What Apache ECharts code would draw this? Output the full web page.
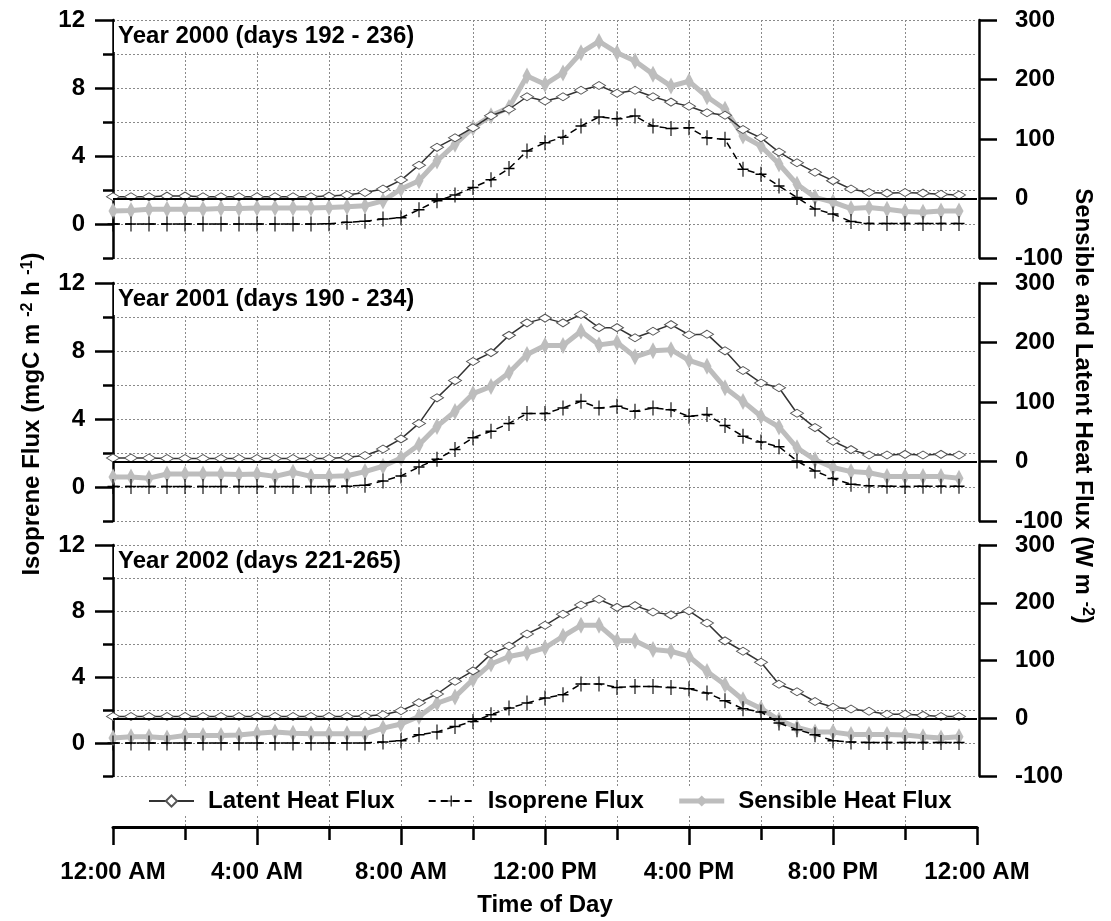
<!DOCTYPE html>
<html>
<head>
<meta charset="utf-8">
<title>Diurnal isoprene, latent and sensible heat flux</title>
<script src="https://cdn.jsdelivr.net/npm/echarts@6/dist/echarts.min.js"></script>
<style>
  html, body { margin: 0; padding: 0; background: #fff; }
  #chart { width: 1111px; height: 921px; }
</style>
</head>
<body>
<div id="chart"></div>
<script>
// Half-hourly time of day (hours after midnight)
const HOURS = [0,0.5,1,1.5,2,2.5,3,3.5,4,4.5,5,5.5,6,6.5,7,7.5,8,8.5,9,9.5,10,10.5,11,11.5,
               12,12.5,13,13.5,14,14.5,15,15.5,16,16.5,17,17.5,18,18.5,19,19.5,20,20.5,21,21.5,22,22.5,23,23.5];

const TIME_TICKS  = [0, 4, 8, 12, 16, 20, 24];
const TIME_LABELS = ['12:00 AM', '4:00 AM', '8:00 AM', '12:00 PM', '4:00 PM', '8:00 PM', '12:00 AM'];
const ISO_TICKS   = [0, 4, 8, 12];

const PANEL_TITLES = ['Year 2000 (days 192 - 236)', 'Year 2001 (days 190 - 234)', 'Year 2002 (days 221-265)'];
const SERIES_NAMES = ['Latent Heat Flux', 'Isoprene Flux', 'Sensible Heat Flux'];

// Latent heat flux, W m-2
const LATENT_2000 = [3,3,3,4,4,3,3,3,3,3,3,3, 4,6,10,16,31,56,86,102,119,139,150,171,
                     164,171,182,190,177,182,171,162,155,144,140,116, 102,78,60,44,30,16,10,9,10,9,7,6];
const LATENT_2001 = [6,6,6,5,5,5,5,5,5,5,5,5, 5,7,10,21,38,64,107,136,168,183,212,233,
                     241,233,247,225,225,208,219,230,213,214,186,153, 132,124,81,57,34,20,11,11,12,11,12,11];
const LATENT_2002 = [3,3,3,3,3,3,3,3,3,3,3,3, 3,3,4,6,13,27,42,64,82,111,125,146,
                     161,180,196,206,192,195,184,179,186,165,134,116, 97,59,46,29,19,16,12,7,7,5,3,3];

// Sensible heat flux, W m-2
const SENSIBLE_2000 = [-21,-20,-18,-18,-18,-18,-17,-17,-16,-16,-16,-16, -15,-14,-12,-4,16,30,63,91,119,139,153,206,
                       192,211,245,264,245,231,209,189,197,171,150,105, 88,58,24,2,-6,-17,-15,-18,-22,-23,-21,-21];
const SENSIBLE_2001 = [-26,-26,-28,-21,-21,-21,-21,-22,-21,-25,-18,-25, -25,-24,-17,-8,6,28,59,84,114,126,149,180,
                       195,195,219,196,200,176,186,188,170,160,124,101, 76,58,23,3,-10,-17,-19,-25,-25,-25,-25,-28];
const SENSIBLE_2002 = [-34,-32,-32,-34,-30,-30,-30,-29,-26,-24,-26,-27, -27,-27,-27,-17,-10,3,26,37,67,94,107,113,
                       122,142,161,161,134,134,119,116,107,81,58,32, 17,-3,-16,-24,-24,-28,-28,-28,-29,-32,-34,-32];

// Isoprene flux, mgC m-2 h-1
const ISOPRENE_2000 = [0,0,0,0,0,0,0,0,0,0,0,0, 0.02,0.1,0.16,0.29,0.37,0.84,1.37,1.7,2.15,2.6,3.26,4.29,
                       4.78,5.1,5.76,6.3,6.19,6.35,5.76,5.62,5.66,5.07,4.98,3.22, 2.93,2.24,1.56,0.88,0.59,0.14,0.03,0.03,0.03,0.03,0.03,0.03];
const ISOPRENE_2001 = [0.03,0.03,0.03,0.03,0.03,0.03,0.03,0.03,0.03,0.03,0.03,0.03, 0.03,0.05,0.1,0.36,0.65,1.18,1.63,2.21,2.9,3.28,3.74,4.32,
                       4.32,4.65,5.04,4.65,4.75,4.46,4.65,4.55,4.16,4.26,3.62,2.99, 2.64,2.37,1.53,0.94,0.5,0.16,0.07,0.05,0.03,0.05,0.05,0.05];
const ISOPRENE_2002 = [0,0,0,0,0,0,0,0,0,0,0,0, 0,0,0,0.06,0.14,0.5,0.67,1.0,1.31,1.71,2.12,2.42,
                       2.73,2.93,3.57,3.57,3.37,3.43,3.43,3.37,3.29,3.03,2.56,2.08, 1.88,1.21,0.81,0.5,0.14,0.06,0.03,0.03,0.03,0.03,0.03,0.03];

const LATENT   = [LATENT_2000, LATENT_2001, LATENT_2002];
const SENSIBLE = [SENSIBLE_2000, SENSIBLE_2001, SENSIBLE_2002];
const ISOPRENE = [ISOPRENE_2000, ISOPRENE_2001, ISOPRENE_2002];

// ---- layout & styles ----
const FONT = '"Liberation Sans", Arial, sans-serif';
const FS = 24;
const PLOT_LEFT = 113, PLOT_WIDTH = 864;
const PANELS = [{ top: 20, height: 238 }, { top: 283, height: 238 }, { top: 545, height: 231 }];
const GRID_LINE = { color: '#8a8a8a', width: 1, type: [2, 2] };
const AXIS_BLACK = { color: '#000', width: 2.5 };
const labelStyle = { fontSize: FS, fontWeight: 'bold', fontFamily: FONT, color: '#000' };
const PLUS = 'path://M9,0h2v9h9v2h-9v9h-2v-9h-9v-2h9z';
const SENSIBLE_GREY = '#bdbdbd';

const pairs = (vals) => HOURS.map((h, i) => [h, vals[i]]);

const grid = PANELS.map(p => ({ left: PLOT_LEFT, width: PLOT_WIDTH, top: p.top, height: p.height }));
grid.push({ left: PLOT_LEFT, width: PLOT_WIDTH, top: 20, height: 807 });

const xAxis = PANELS.map((p, i) => ({ type: 'value', gridIndex: i, min: 0, max: 24, show: false }));
// shared time axis at the bottom: vertical grid lines and short ticks every 2 h
xAxis.push({
  type: 'value', gridIndex: 3, min: 0, max: 24, interval: 2, position: 'bottom',
  axisLine: { show: true, lineStyle: { color: '#000', width: 3 } },
  axisTick: { show: true, length: 13, lineStyle: AXIS_BLACK },
  axisLabel: { show: false },
  splitLine: { show: true, showMinLine: false, showMaxLine: false, lineStyle: GRID_LINE }
});
// long labelled ticks every 4 h
xAxis.push({
  type: 'value', gridIndex: 3, min: 0, max: 24, interval: 2, position: 'bottom',
  axisLine: { show: false },
  axisTick: { show: true, length: 18, customValues: TIME_TICKS, lineStyle: AXIS_BLACK },
  axisLabel: Object.assign({
    show: true, margin: 33, customValues: TIME_TICKS,
    formatter: v => { const k = TIME_TICKS.indexOf(v); return k >= 0 ? TIME_LABELS[k] : ''; }
  }, labelStyle),
  splitLine: { show: false }
});

const yAxis = [];
PANELS.forEach((p, i) => {
  // isoprene axis (left): grid lines every 2, short ticks
  yAxis.push({
    type: 'value', gridIndex: i, position: 'left', min: -2, max: 12, interval: 2,
    axisLine: { show: true, lineStyle: AXIS_BLACK },
    axisTick: { show: true, length: 10, lineStyle: AXIS_BLACK },
    axisLabel: Object.assign({
      margin: 28, formatter: v => (ISO_TICKS.indexOf(v) >= 0 ? String(v) : '')
    }, labelStyle),
    splitLine: { show: true, showMinLine: true, showMaxLine: true, lineStyle: GRID_LINE }
  });
  // long ticks at labelled isoprene values
  yAxis.push({
    type: 'value', gridIndex: i, position: 'left', offset: 0, min: -2, max: 12, interval: 2,
    axisLine: { show: false },
    axisTick: { show: true, length: 18, customValues: ISO_TICKS, lineStyle: AXIS_BLACK },
    axisLabel: { show: false },
    splitLine: { show: false }
  });
  // heat flux axis (right)
  yAxis.push({
    type: 'value', gridIndex: i, position: 'right', offset: 2, min: -100, max: 300, interval: 100,
    axisLine: { show: true, lineStyle: AXIS_BLACK },
    axisTick: { show: true, length: 18, lineStyle: AXIS_BLACK },
    axisLabel: Object.assign({ margin: 36, align: 'left' }, labelStyle),
    splitLine: { show: false }
  });
});
yAxis.push({ type: 'value', gridIndex: 3, min: 0, max: 1, show: false });

const series = [];
PANELS.forEach((p, i) => {
  series.push({
    name: SERIES_NAMES[2], type: 'line', xAxisIndex: i, yAxisIndex: 3 * i + 2,
    data: pairs(SENSIBLE[i]), z: 2,
    lineStyle: { color: SENSIBLE_GREY, width: 5 },
    symbol: 'diamond', symbolSize: [9, 17],
    itemStyle: { color: SENSIBLE_GREY }
  });
  series.push({
    name: SERIES_NAMES[0], type: 'line', xAxisIndex: i, yAxisIndex: 3 * i + 2,
    data: pairs(LATENT[i]), z: 3,
    lineStyle: { color: '#333', width: 1.5 },
    symbol: 'diamond', symbolSize: [13, 8],
    itemStyle: { color: '#fff', borderColor: '#555', borderWidth: 1 },
    markLine: {
      silent: true, symbol: ['none', 'none'], label: { show: false },
      lineStyle: { color: '#000', width: 2, type: 'solid' },
      data: [{ yAxis: 0 }]
    }
  });
  series.push({
    name: SERIES_NAMES[1], type: 'line', xAxisIndex: i, yAxisIndex: 3 * i,
    data: pairs(ISOPRENE[i]), z: 4,
    lineStyle: { color: '#000', width: 1.5, type: [7, 5] },
    symbol: PLUS, symbolSize: [11, 15], symbolKeepAspect: false,
    itemStyle: { color: '#000' }
  });
});

const graphic = PANEL_TITLES.map((t, i) => ({
  type: 'text', x: 114, y: PANELS[i].top + 2, z: 100,
  style: {
    text: t, fontSize: FS, fontWeight: 'bold', fontFamily: FONT, fill: '#000',
    backgroundColor: '#fff', padding: [2, 4, 4, 4]
  }
}));
const sup = { fontSize: 16, fontWeight: 'bold', fontFamily: FONT, fill: '#000', verticalAlign: 'top' };
const norm = { fontSize: FS, fontWeight: 'bold', fontFamily: FONT, fill: '#000' };
graphic.push({
  type: 'text', x: 32, y: 414, rotation: Math.PI / 2, z: 100,
  style: {
    text: '{n|Isoprene Flux (mgC m }{s|-2}{n| h }{s|-1}{n|)}',
    rich: { n: norm, s: sup }, align: 'center', verticalAlign: 'middle'
  }
});
graphic.push({
  type: 'text', x: 1083, y: 406, rotation: -Math.PI / 2, z: 100,
  style: {
    text: '{n|Sensible and Latent Heat Flux (W m }{s|-2}{n|)}',
    rich: { n: norm, s: sup }, align: 'center', verticalAlign: 'middle'
  }
});
graphic.push({
  type: 'text', x: 545, y: 905, z: 100,
  style: Object.assign({ text: 'Time of Day', align: 'center', verticalAlign: 'middle' }, norm)
});

const option = {
  animation: false,
  backgroundColor: '#fff',
  grid, xAxis, yAxis, series, graphic,
  legend: {
    data: [
      { name: SERIES_NAMES[0] },
      { name: SERIES_NAMES[1] },
      { name: SERIES_NAMES[2], lineStyle: { width: 5, color: SENSIBLE_GREY } }
    ],
    left: 134, top: 786,
    backgroundColor: '#fff',
    padding: [3, 14],
    itemWidth: 45, itemHeight: 14, itemGap: 33,
    textStyle: { fontSize: FS, fontWeight: 'bold', fontFamily: FONT, color: '#000', padding: [0, 0, 0, 9] }
  }
};

const chart = echarts.init(document.getElementById('chart'));
chart.setOption(option);
</script>
</body>
</html>
